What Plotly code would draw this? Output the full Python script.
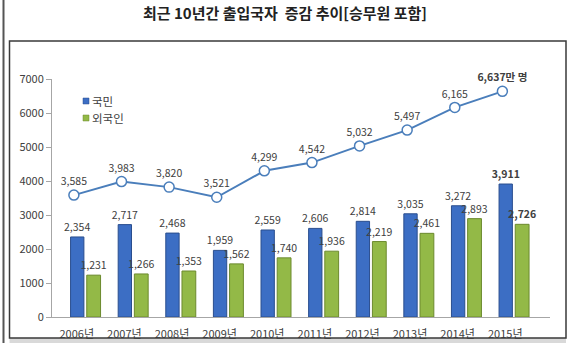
import plotly.graph_objects as go

years = ["2006년", "2007년", "2008년", "2009년", "2010년", "2011년", "2012년", "2013년", "2014년", "2015년"]
total = [3585, 3983, 3820, 3521, 4299, 4542, 5032, 5497, 6165, 6637]
citizens = [2354, 2717, 2468, 1959, 2559, 2606, 2814, 3035, 3272, 3911]
foreigners = [1231, 1266, 1353, 1562, 1740, 1936, 2219, 2461, 2893, 2726]
y_ticks = [0, 1000, 2000, 3000, 4000, 5000, 6000, 7000]
series_names = ["국민", "외국인"]
series_colors = ["#3C6EC4", "#93B947"]
series_edges = ["#2A4E8E", "#6C8A2E"]

W, H = 570, 343
L, R, T, B = 52, 550, 79, 317
FONT = "Noto Sans CJK KR, Noto Sans, sans-serif"
GREY = "#404040"

def px2x(px):
    return (px - L) / (R - L)

def py2y(py):
    return (B - py) / (B - T)

idx = list(range(len(years)))

def fmt(v):
    return f"{v:,}"

line_text = [fmt(v) for v in total]
line_text[-1] = f"<b>{fmt(total[-1])}만 명</b>"
cit_text = [fmt(v) for v in citizens]
cit_text[-1] = f"<b>{cit_text[-1]}</b>"
for_text = [fmt(v) for v in foreigners]
for_text[-1] = f"<b>{for_text[-1]}</b>"

fig = go.Figure()
fig.add_trace(go.Bar(
    x=idx, y=citizens, name=series_names[0], width=0.28, offset=-0.07, showlegend=False,
    marker=dict(color=series_colors[0], line=dict(color=series_edges[0], width=1)),
    text=cit_text, textposition="outside", constraintext="none", cliponaxis=False,
    textfont=dict(size=10.5, color=GREY, family=FONT),
))
fig.add_trace(go.Bar(
    x=idx, y=foreigners, name=series_names[1], width=0.29, offset=0.27, showlegend=False,
    marker=dict(color=series_colors[1], line=dict(color=series_edges[1], width=1)),
    text=for_text, textposition="outside", constraintext="none", cliponaxis=False,
    textfont=dict(size=10.5, color=GREY, family=FONT),
))
fig.add_trace(go.Scatter(
    x=idx, y=total, mode="lines+markers+text", showlegend=False, name="합계",
    line=dict(color="#4A7EBB", width=2),
    marker=dict(size=10, color="white", line=dict(color="#4A7EBB", width=1.5)),
    text=line_text, textposition="top center", cliponaxis=False,
    textfont=dict(size=10.5, color=GREY, family=FONT),
))

shapes = [
    dict(type="line", xref="paper", yref="paper", x0=px2x(3.5), x1=px2x(3.5), y0=py2y(0), y1=py2y(343),
         line=dict(color="#555555", width=2)),
    dict(type="rect", xref="paper", yref="paper", x0=px2x(9.5), x1=px2x(566), y0=py2y(338), y1=py2y(343),
         fillcolor="#D9D9D9", line=dict(width=0), layer="below"),
    dict(type="rect", xref="paper", yref="paper", x0=px2x(9.5), x1=px2x(566), y0=py2y(338), y1=py2y(41),
         line=dict(color="#3A3A3A", width=1.5), fillcolor="rgba(0,0,0,0)"),
]
annotations = []
legend_rows = [101, 118]
for name, col, edge, ry in zip(series_names, series_colors, series_edges, legend_rows):
    shapes.append(dict(type="rect", xref="paper", yref="paper", x0=px2x(83), x1=px2x(89),
                       y0=py2y(ry + 3), y1=py2y(ry - 3), fillcolor=col, line=dict(color=edge, width=0.5)))
    annotations.append(dict(xref="paper", yref="paper", x=px2x(90), y=py2y(ry), xanchor="left",
                            yanchor="middle", text=name, showarrow=False,
                            font=dict(size=11.5, color=GREY, family=FONT)))

fig.update_layout(
    width=W, height=H,
    margin=dict(l=L, r=W - R, t=T, b=H - B, autoexpand=False),
    paper_bgcolor="white", plot_bgcolor="white",
    barmode="overlay",
    showlegend=False,
    font=dict(family=FONT, size=11, color=GREY),
    title=dict(text="<b>최근 10년간 출입국자  증감 추이[승무원 포함]</b>",
               x=0.5, xref="container", xanchor="center",
               y=1 - 14 / H, yref="container", yanchor="middle",
               font=dict(size=15, color="#222222", family=FONT)),
    xaxis=dict(range=[-0.46, 10.0], tickmode="array", tickvals=[i + 0.06 for i in idx], ticktext=years,
               showline=True, linecolor="#A6A6A6", linewidth=1, ticks="", showgrid=False, automargin=False,
               zeroline=False, tickfont=dict(size=11, color=GREY), ticklabelstandoff=7),
    yaxis=dict(range=[0, 7000], tickmode="array", tickvals=y_ticks, ticktext=[str(v) for v in y_ticks],
               showline=True, linecolor="#A6A6A6", linewidth=1, ticks="outside", ticklen=5, automargin=False,
               tickcolor="#A6A6A6", showgrid=False, zeroline=False, tickfont=dict(size=11, color=GREY)),
    shapes=shapes,
    annotations=annotations,
)

fig.write_html("out.html")
